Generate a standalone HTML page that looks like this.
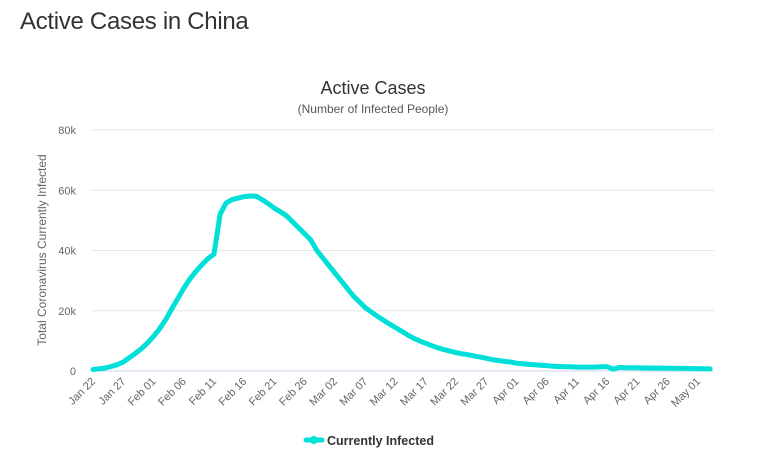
<!DOCTYPE html>
<html><head><meta charset="utf-8"><style>
body{margin:0;background:#fff;width:765px;height:468px;overflow:hidden;font-family:"Liberation Sans","DejaVu Sans",sans-serif}
h1{position:absolute;left:20px;top:8px;margin:0;font-weight:normal;font-size:24px;color:#333;letter-spacing:-0.3px}
svg{position:absolute;left:0;top:0}
</style></head><body>
<h1>Active Cases in China</h1>
<svg id="c" width="765" height="468"></svg>
<script>
const values = [0.5,0.7,1.0,1.5,2.1,3.0,4.4,5.8,7.4,9.3,11.5,14.0,17.0,20.5,24.0,27.5,30.5,33.0,35.3,37.3,38.8,52,55.8,56.9,57.4,57.9,58.1,58.0,56.8,55.5,54.0,52.8,51.5,49.5,47.5,45.5,43.5,40.0,37.5,35.0,32.5,30.0,27.5,25.0,23.0,21.0,19.6,18.2,16.9,15.6,14.4,13.2,12.0,10.9,10.0,9.2,8.4,7.7,7.1,6.6,6.1,5.7,5.4,5.0,4.6,4.2,3.8,3.5,3.2,3.0,2.6,2.4,2.2,2.1,1.9,1.8,1.6,1.5,1.4,1.4,1.3,1.3,1.3,1.3,1.4,1.4,0.6,1.2,1.1,1.1,1.05,1.0,1.0,0.95,0.95,0.9,0.9,0.85,0.85,0.8,0.8,0.75,0.7];
const xLabels = ["Jan 22","Jan 27","Feb 01","Feb 06","Feb 11","Feb 16","Feb 21","Feb 26","Mar 02","Mar 07","Mar 12","Mar 17","Mar 22","Mar 27","Apr 01","Apr 06","Apr 11","Apr 16","Apr 21","Apr 26","May 01"];
const yTicks = [0,20,40,60,80];
const yTickLabels = ["0","20k","40k","60k","80k"];
const NS="http://www.w3.org/2000/svg", svg=document.getElementById('c');
const x0=93, dx=6.05, y0=371, y80=130;
const X=i=>x0+i*dx, Y=v=>y0-(v/80)*(y0-y80);
function mk(t,a,txt){const e=document.createElementNS(NS,t);for(const k in a)e.setAttribute(k,a[k]);if(txt!=null)e.textContent=txt;svg.appendChild(e);return e;}
let e;
e=mk('text',{x:373,y:94,'text-anchor':'middle','font-size':18,fill:'#333'},'Active Cases');


e=mk('text',{x:373,y:113,'text-anchor':'middle','font-size':12,fill:'#555'},'(Number of Infected People)');


yTicks.forEach((t,i)=>{
  e=mk('line',{x1:91,x2:714,y1:Y(t),y2:Y(t),stroke:t===0?'#ccd6eb':'#e6e6e6','stroke-width':1});
  
  
  e=mk('text',{x:76,y:Y(t)+4,'text-anchor':'end','font-size':11,fill:'#666'},yTickLabels[i]);
  
  
});
xLabels.forEach((l,i)=>{
  const x=X(i*5);
  e=mk('text',{x:x+3,y:382,'text-anchor':'end','font-size':11,fill:'#666',transform:`rotate(-45 ${x+3} 382)`},l);
  
  
});
e=mk('text',{x:0,y:0,'text-anchor':'middle','font-size':12,fill:'#666',transform:'translate(46 250) rotate(-90)'},'Total Coronavirus Currently Infected');


e=mk('path',{d:values.map((v,i)=>(i?'L':'M')+X(i).toFixed(1)+' '+Y(v).toFixed(1)).join(' '),fill:'none',stroke:'#00e0d8','stroke-width':5,'stroke-linejoin':'round','stroke-linecap':'round'});


e=mk('line',{x1:306,x2:322,y1:440,y2:440,stroke:'#00e0d8','stroke-width':5,'stroke-linecap':'round'});


e=mk('circle',{cx:314,cy:440,r:4,fill:'#00e0d8'});


e=mk('text',{x:327,y:445,'font-size':12.5,'font-weight':'bold',fill:'#333'},'Currently Infected');


</script>
</body></html>
